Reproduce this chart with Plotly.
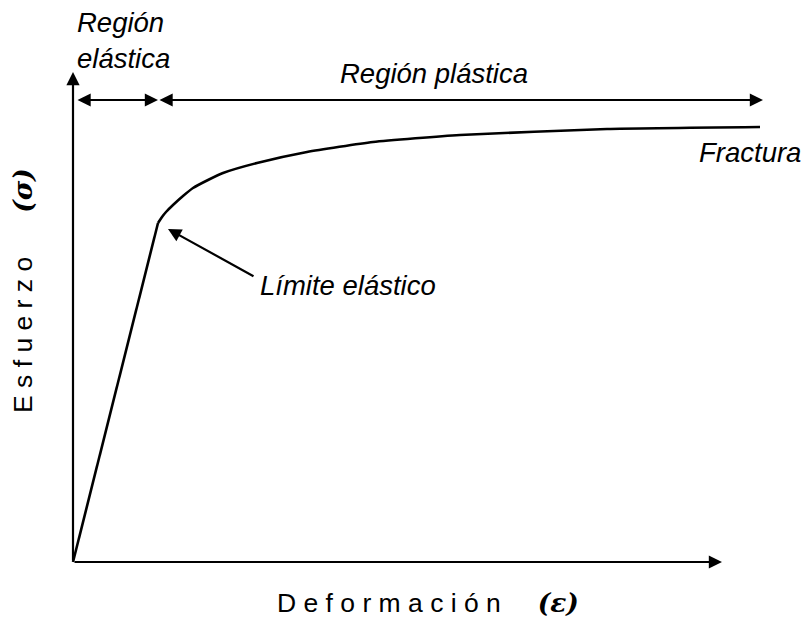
import plotly.graph_objects as go

# Stress-strain curve (arbitrary units)
elastic_strain = [0.0, 0.85]
elastic_stress = [0.0, 3.39]

plastic_strain = [0.85, 0.89, 0.93, 1.00, 1.10, 1.20, 1.35, 1.50, 1.84, 2.34, 3.00, 3.87, 5.34, 6.87]
plastic_stress = [3.39, 3.45, 3.50, 3.57, 3.66, 3.74, 3.82, 3.89, 3.99, 4.10, 4.20, 4.27, 4.33, 4.35]

# Region limits along the strain axis
yield_strain = 0.85
fracture_strain = 6.90
axis_x_end = 6.49
axis_y_end = 4.90
region_arrow_y = 4.62

FONT = "Liberation Sans, Arial, sans-serif"
SYMBOL_FONT = "DejaVu Serif, serif"
INK = "#000000"
SIZE = 27.5

fig = go.Figure()
fig.add_trace(go.Scatter(x=elastic_strain, y=elastic_stress, mode="lines",
                         line=dict(color=INK, width=2.6), hoverinfo="skip"))
fig.add_trace(go.Scatter(x=plastic_strain, y=plastic_stress, mode="lines",
                         line=dict(color=INK, width=2.6, shape="spline", smoothing=0.5),
                         hoverinfo="skip"))

def arrow(x0, y0, x1, y1, both=False):
    fig.add_annotation(x=x1, y=y1, ax=x0, ay=y0, xref="x", yref="y",
                       axref="x", ayref="y", text="", showarrow=True,
                       arrowhead=2, arrowsize=1.2, arrowwidth=2.2, arrowcolor=INK,
                       arrowside="end+start" if both else "end",
                       standoff=0, startstandoff=0)

# Axes drawn as arrows
arrow(0, 0, axis_x_end, 0)
arrow(0, 0, 0, axis_y_end)

# Elastic / plastic region spans
arrow(0.03, region_arrow_y, yield_strain, region_arrow_y, both=True)
arrow(yield_strain, region_arrow_y, fracture_strain, region_arrow_y, both=True)

# Yield point pointer
arrow(1.82, 2.85, 0.95, 3.33)

def label(x, y, text, xanchor="left"):
    fig.add_annotation(x=x, y=y, xref="x", yref="y", text=text, showarrow=False,
                       xanchor=xanchor, yanchor="middle", align="left",
                       font=dict(family=FONT, size=SIZE, color=INK, style="italic"))

label(0.02, 5.22, "Región<br>elástica")
label(3.61, 4.89, "Región plástica", xanchor="center")
label(6.24, 4.10, "Fractura")
label(1.85, 2.77, "Límite elástico")

def symbol(ch):
    return f"<span style='font-family:{SYMBOL_FONT}'><b><i>({ch})</i></b></span>"

# Axis titles with spaced lettering
fig.add_annotation(x=2.02, y=-0.40, xref="x", yref="y", showarrow=False,
                   xanchor="left", yanchor="middle",
                   text="D e f o r m a c i ó n\u00a0\u00a0\u00a0\u00a0 " + symbol("ε"),
                   font=dict(family=FONT, size=SIZE - 1, color=INK))
fig.add_annotation(x=-0.51, y=2.71, xref="x", yref="y", showarrow=False,
                   xanchor="center", yanchor="middle", textangle=-90,
                   text="E s f u e r z o\u00a0\u00a0\u00a0\u00a0\u00a0 " + symbol("σ"),
                   font=dict(family=FONT, size=SIZE - 1, color=INK))

fig.update_layout(
    width=804, height=617,
    margin=dict(l=0, r=0, t=0, b=0),
    paper_bgcolor="white", plot_bgcolor="white",
    showlegend=False,
    xaxis=dict(range=[-0.73, 7.31], visible=False, fixedrange=True),
    yaxis=dict(range=[-0.55, 5.62], visible=False, fixedrange=True),
)

fig.write_html("out.html")
